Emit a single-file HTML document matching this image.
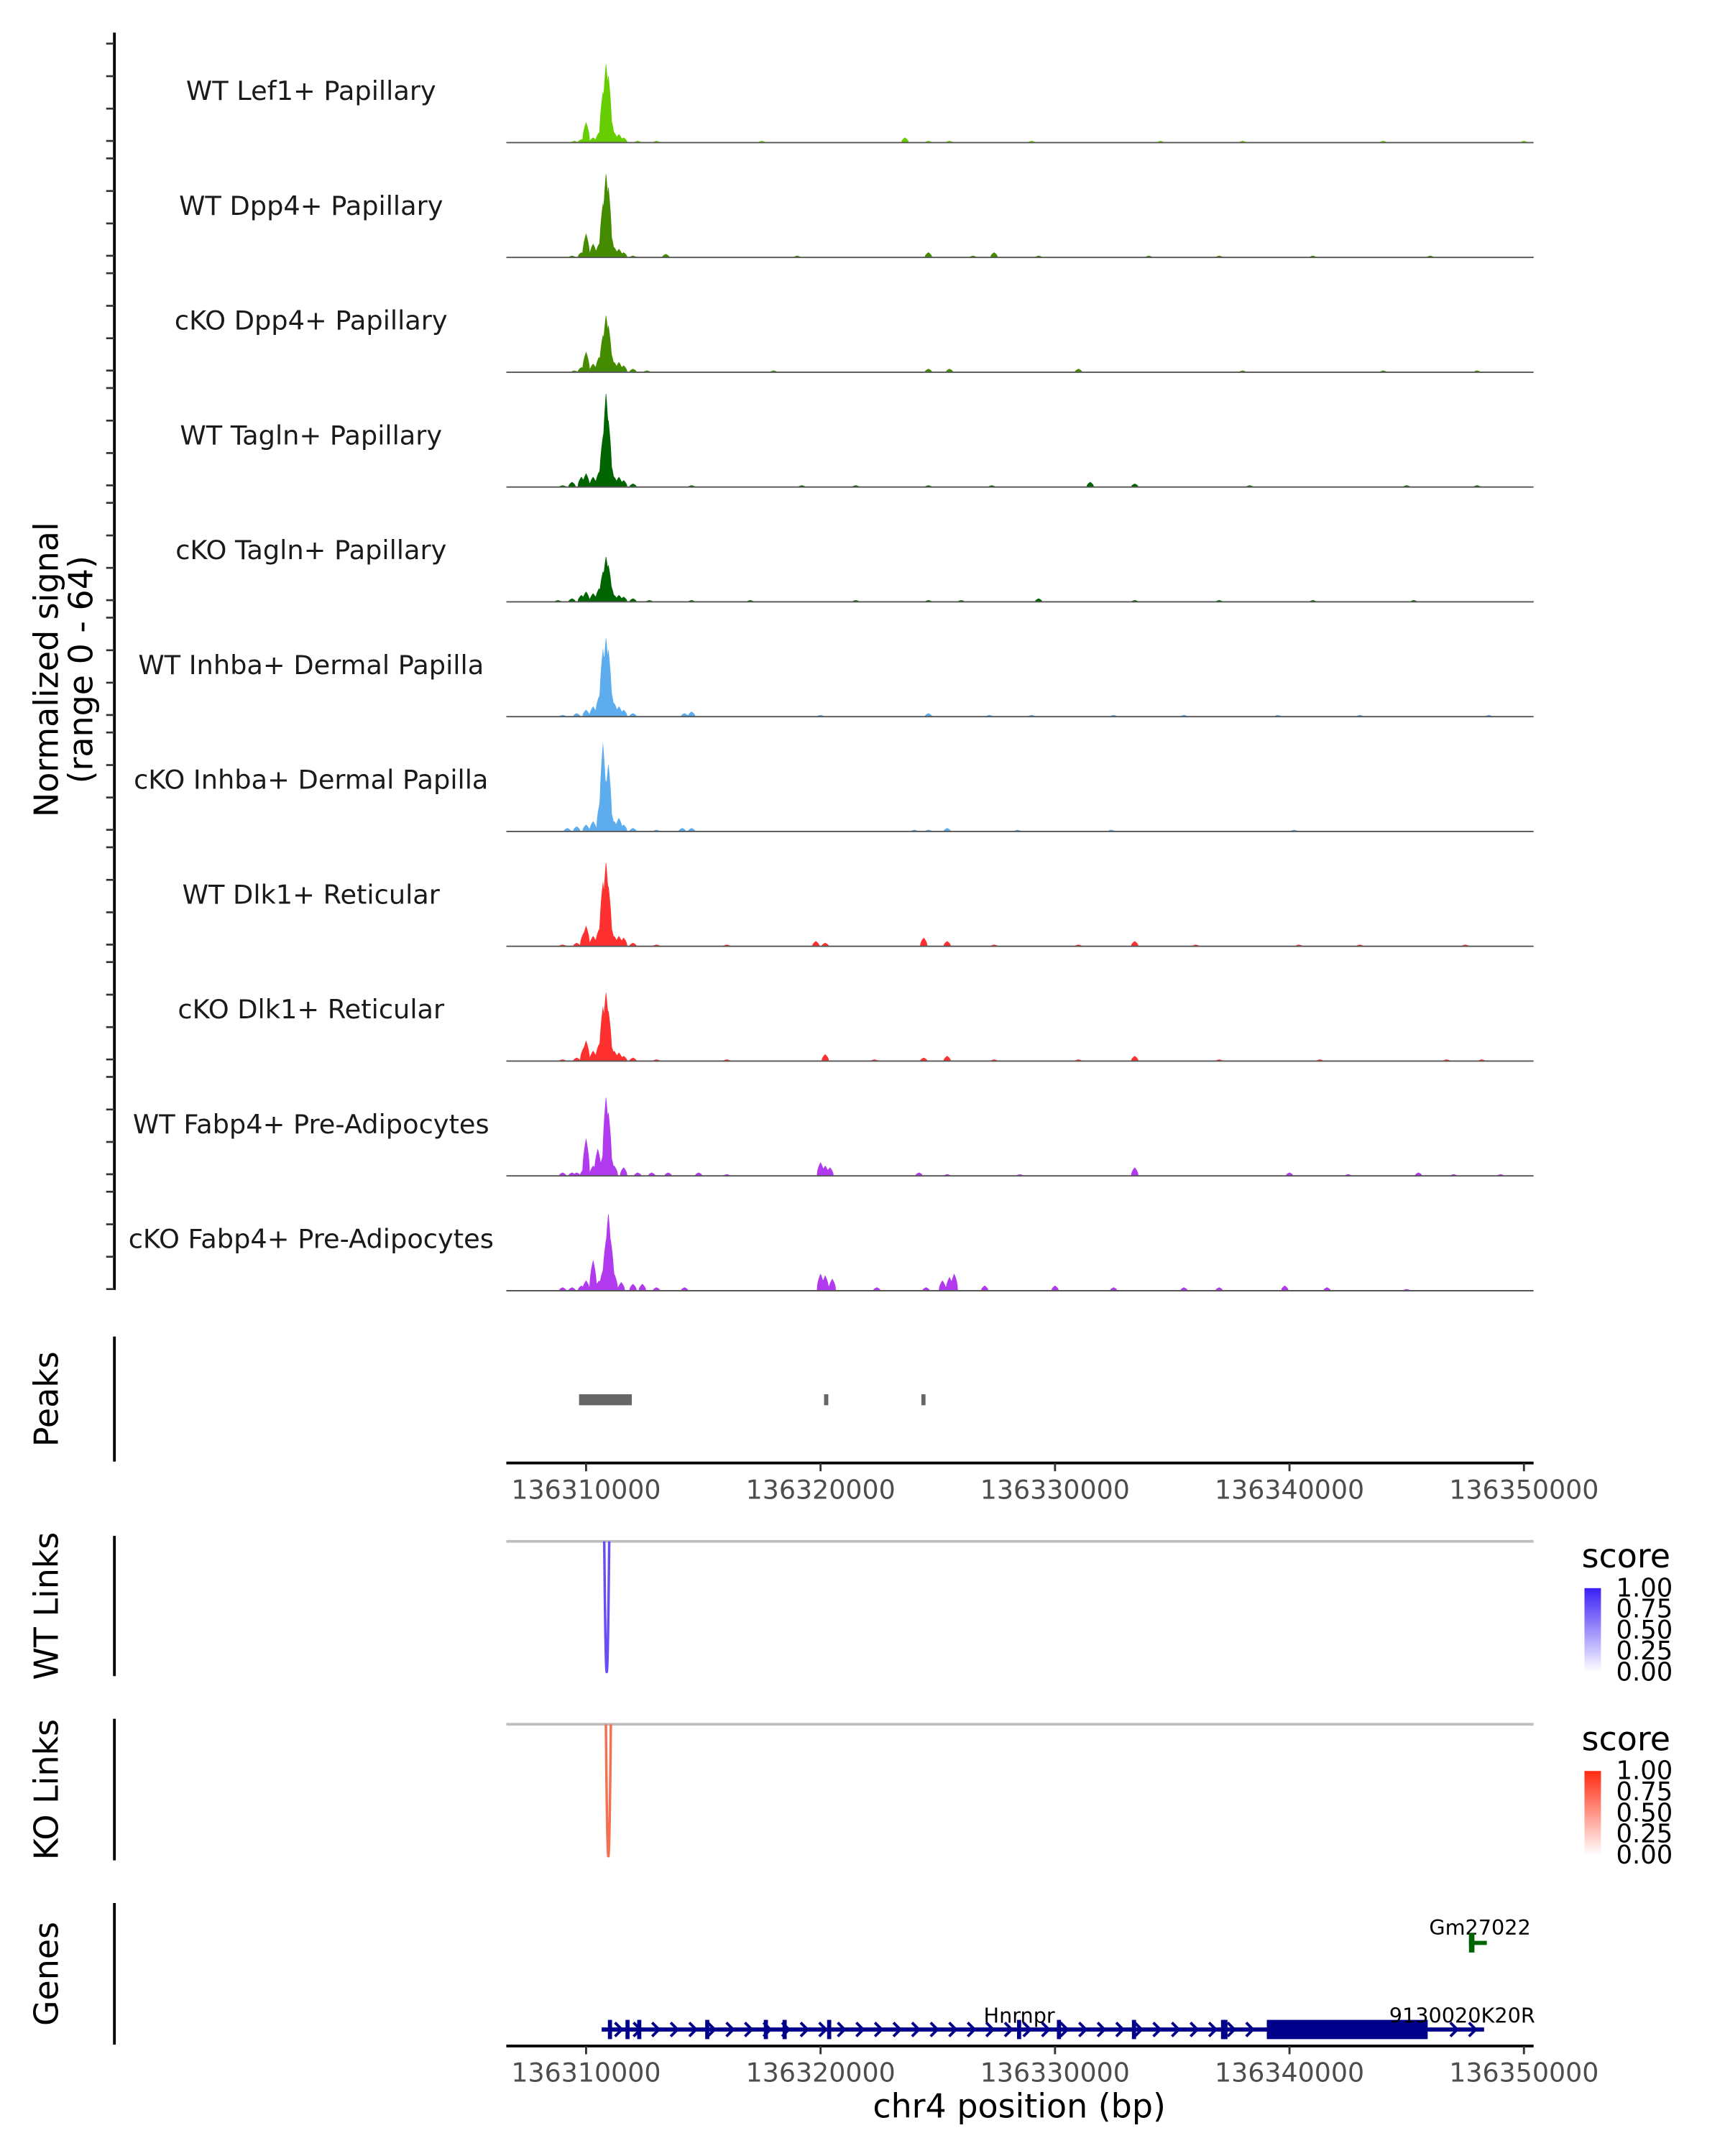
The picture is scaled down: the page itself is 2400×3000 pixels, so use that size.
<!DOCTYPE html>
<html><head><meta charset="utf-8"><style>html,body{margin:0;padding:0;background:#fff}svg{display:block}text{font-family:"DejaVu Sans","Liberation Sans",sans-serif}</style></head>
<body>
<svg id="chart" xmlns="http://www.w3.org/2000/svg" width="2400" height="3000" viewBox="0 0 1254 1568">
<g id="tracks"></g>
<g id="rest"></g>
</svg>
<script>
const trackNames = ["WT Lef1+ Papillary","WT Dpp4+ Papillary","cKO Dpp4+ Papillary","WT Tagln+ Papillary","cKO Tagln+ Papillary","WT Inhba+ Dermal Papilla","cKO Inhba+ Dermal Papilla","WT Dlk1+ Reticular","cKO Dlk1+ Reticular","WT Fabp4+ Pre-Adipocytes","cKO Fabp4+ Pre-Adipocytes"];
const trackColors = ["#66CD00","#458B00","#458B00","#006400","#006400","#5CACEE","#5CACEE","#FF3030","#FF3030","#B23AEE","#B23AEE"];
// peak positions in kb relative to 136310000, values in normalized signal (0-64)
const pos1 = [-0.5,-0.2,0.0,0.3,0.55,0.72,0.85,0.95,1.05,1.2,1.4,1.6,2.2,3.0,7.5,13.6,14.6,15.5,19,24.5,28,34,40];
const val1 = [1,2,12,3,6,30,47,40,15,6,5,3,1,1,1,3,1,1,1,1,1,1,1];
const pos2 = [-0.6,-0.2,0.0,0.3,0.55,0.72,0.85,0.95,1.05,1.2,1.4,1.6,2.0,3.4,9,14.6,16.5,17.4,19.3,24,27,31,36,40.5];
const val2 = [1,3,14,8,8,32,50,42,14,6,5,3,1,2,1,3,1,3,1,1,1,1,1,1];
const pos3 = [-0.5,-0.2,0.0,0.3,0.55,0.72,0.85,0.95,1.05,1.2,1.4,1.6,2.0,2.6,8,14.6,15.5,21,28,34,38,42];
const val3 = [1,3,12,5,9,22,34,28,12,6,6,4,2,1,1,2,2,2,1,1,1,1];
const pos4 = [-1.0,-0.6,-0.2,0.0,0.3,0.55,0.72,0.85,0.95,1.05,1.2,1.4,1.6,2.0,4.5,9.2,11.5,14.6,17.3,21.5,23.4,28.3,35,38,42.8];
const val4 = [1,3,6,8,6,9,30,56,40,14,6,6,4,2,1,1,1,1,1,3,2,1,1,1,2];
const pos5 = [-1.2,-0.6,-0.2,0.0,0.3,0.55,0.72,0.85,0.95,1.05,1.2,1.4,1.6,2.0,2.7,4.5,7,11.5,14.6,16,19.3,23.4,27,31,35.3,40.5];
const val5 = [1,2,4,6,5,8,18,27,22,10,4,4,3,2,1,1,1,1,1,1,2,1,1,1,1,1];
const pos6 = [-1.0,-0.4,0.0,0.3,0.55,0.72,0.85,0.95,1.05,1.2,1.4,1.6,2.0,4.2,4.5,10,14.6,17.2,19,22.5,25.5,29.5,33,38.5];
const val6 = [1,2,4,6,12,40,47,40,16,8,6,4,2,2,3,1,2,1,1,1,1,1,1,1];
const pos7 = [-0.8,-0.4,0.0,0.3,0.6,0.72,0.85,0.95,1.05,1.2,1.4,1.6,2.0,3.0,4.1,4.5,14.0,14.6,15.4,18.4,22.4,30.2];
const val7 = [2,3,4,6,18,52,30,40,12,6,8,4,2,1,2,2,1,1,2,1,1,1];
const pos8 = [-1.0,-0.4,-0.1,0.0,0.3,0.55,0.72,0.85,0.95,1.05,1.2,1.4,1.6,2.0,3.0,6,9.8,10.2,14.4,15.4,17.4,21,23.4,26,30.4,33,37.5,41];
const val8 = [1,2,8,12,6,10,38,50,36,12,6,6,5,2,1,1,3,2,5,3,1,1,3,1,1,1,1,1];
const pos9 = [-1.0,-0.4,-0.1,0.0,0.3,0.55,0.72,0.85,0.95,1.05,1.2,1.4,1.6,2.0,3.0,6,10.2,12.3,14.4,15.4,17.4,21,23.4,27,31.3,36.7,38.2];
const val9 = [1,2,8,12,6,10,32,41,30,10,6,5,3,2,1,1,4,1,2,3,1,1,3,1,1,1,1];
const pos10 = [-1.0,-0.6,-0.4,-0.1,0.0,0.3,0.5,0.72,0.85,0.95,1.05,1.2,1.6,2.2,2.8,3.5,4.8,6,10.0,10.2,10.4,14.2,15.4,18.5,23.4,30,32.5,35.5,37,39];
const val10 = [2,2,2,4,22,6,16,12,47,38,12,6,5,2,2,2,2,1,8,6,5,2,1,1,5,2,1,2,1,1];
const pos11 = [-1.0,-0.6,-0.2,0.0,0.3,0.55,0.72,0.85,0.95,1.05,1.2,1.5,2.0,2.4,3.0,4.2,10.0,10.2,10.5,12.4,14.5,15.2,15.5,15.7,17,20,22.5,25.5,27,29.8,31.6,35];
const val11 = [2,2,3,6,18,6,12,30,46,30,10,5,4,4,2,2,10,9,7,2,2,6,8,10,3,3,2,2,2,3,2,1];
const allPos = [pos1,pos2,pos3,pos4,pos5,pos6,pos7,pos8,pos9,pos10,pos11];
const allVal = [val1,val2,val3,val4,val5,val6,val7,val8,val9,val10,val11];
const xTicks = [136310000,136320000,136330000,136340000,136350000];
const peaksStart = [136309700,136320150,136324300];
const peaksEnd = [136311950,136320330,136324420];
const linkWT = [136310880];
const linkKO = [136310950];
const legendTicks = ["1.00","0.75","0.50","0.25","0.00"];
const exons = [136310050,136310800,136311300,136314200,136316700,136317500,136319400,136327500,136329200,136332400,136336200,136336300];

const NS="http://www.w3.org/2000/svg";
const X0=368, X1=1115;
function xs(bp){return 426+(bp-136310000)*0.01705;}
function mk(tag,attrs,parent){const e=document.createElementNS(NS,tag);for(const k in attrs)e.setAttribute(k,attrs[k]);parent.appendChild(e);return e;}
const T=document.getElementById('tracks'), R=document.getElementById('rest');
const top0=23.7, step=83.5, panelH=80, yUnit=80/64;

let ax=mk('line',{x1:83,x2:83,y1:top0,y2:top0+step*11-4,stroke:'#000','stroke-width':2},T);


for(let i=0;i<11;i++){
  const top=top0+step*i, base=top+panelH;
  [8,31.7,55.3,78.8].forEach(o=>{
    const t=mk('line',{x1:77,x2:83,y1:top+o,y2:top+o,stroke:'#333','stroke-width':1.4},T);
    
    
  });
  const lab=mk('text',{x:226,y:top+49,'text-anchor':'middle','font-size':19.2,fill:'#1a1a1a'},T);
  lab.textContent=trackNames[i];
  
  
  const P=allPos[i], V=allVal[i];
  let d='M'+X0+','+base;
  for(let bp=136306600; bp<=136350400; bp+=20){
    const kb=(bp-136310000)/1000; let v=0;
    for(let j=0;j<P.length;j++){const w=0.16;const a=1-Math.abs(kb-P[j])/w; if(a>0) v=Math.max(v,V[j]*Math.sqrt(a));}
    d+=' L'+xs(bp).toFixed(2)+','+(base-v*yUnit).toFixed(2);
  }
  d+=' L'+X1+','+base+' Z';
  const p=mk('path',{d:d,fill:trackColors[i],stroke:'none'},T);
  
  
  const bl=mk('line',{x1:X0,x2:X1,y1:base,y2:base,stroke:'#555','stroke-width':1},T);
  
  
}
const yt=mk('text',{transform:'translate(42,487) rotate(-90)','text-anchor':'middle','font-size':24,fill:'#000'},T);
yt.textContent='Normalized signal';


const yt2=mk('text',{transform:'translate(67,487) rotate(-90)','text-anchor':'middle','font-size':24,fill:'#000'},T);
yt2.textContent='(range 0 - 64)';



function panelAxis(y1,y2,label,name){
  const l=mk('line',{x1:83,x2:83,y1:y1,y2:y2,stroke:'#000','stroke-width':2},R);
  
  
  const t=mk('text',{transform:'translate(42,'+((y1+y2)/2)+') rotate(-90)','text-anchor':'middle','font-size':24,fill:'#000'},R);
  t.textContent=label;
  
  
}
function xAxis(y,name){
  const l=mk('line',{x1:X0,x2:X1,y1:y,y2:y,stroke:'#000','stroke-width':2},R);
  
  
  xTicks.forEach(v=>{
    const t=mk('line',{x1:xs(v),x2:xs(v),y1:y,y2:y+6,stroke:'#333','stroke-width':1.5},R);
    
    
    const tx=mk('text',{x:xs(v),y:y+26,'text-anchor':'middle','font-size':19,fill:'#4d4d4d'},R);
    tx.textContent=String(v);
    
    
  });
}
panelAxis(972,1063,'Peaks','peaks');
peaksStart.forEach((s,i)=>{
  const w=Math.max(3,xs(peaksEnd[i])-xs(s));
  const r=mk('rect',{x:xs(s),y:1014,width:w,height:8,fill:'#666'},R);
  
  
});
xAxis(1064,'peaks-x-axis');

function links(y1,y2,bpArr,color,name,gradId,c1){
  panelAxis(y1,y2,name==='wt'?'WT Links':'KO Links',name+'-links');
  const g=mk('line',{x1:X0,x2:X1,y1:y1+4,y2:y1+4,stroke:'#bebebe','stroke-width':2},R);
  
  
  bpArr.forEach(b=>{
    const x=xs(b);
    const p=mk('path',{d:'M'+(x-1.8)+','+(y1+4)+' Q'+x+','+(y2+y2-y1-10)+' '+(x+1.8)+','+(y1+4),fill:'none',stroke:color,'stroke-width':1.8},R);
    
    
  });
  const defs=mk('defs',{},R);
  const lg=mk('linearGradient',{id:gradId,x1:0,y1:0,x2:0,y2:1},defs);
  mk('stop',{offset:'0','stop-color':c1},lg);mk('stop',{offset:'1','stop-color':'#ffffff'},lg);
  const lt=mk('text',{x:1150,y:y1+23,'font-size':24,fill:'#000'},R);
  lt.textContent='score';
  
  
  const by=y1+38;
  const bar=mk('rect',{x:1152,y:by,width:12,height:61,fill:'url(#'+gradId+')'},R);
  
  
  legendTicks.forEach((t,i)=>{
    const tx=mk('text',{x:1175,y:by+6+i*15.3,'font-size':18.5,fill:'#000'},R);
    tx.textContent=t;
    
    
  });
}
links(1117,1219,linkWT,'#6a4cf5','wt','gWT','#3a1ff5');
links(1250,1353,linkKO,'#f47050','ko','gKO','#ff2a10');

panelAxis(1384,1487,'Genes','genes');
let e;
e=mk('text',{x:1076,y:1407,'text-anchor':'middle','font-size':15,fill:'#000'},R);e.textContent='Gm27022';


e=mk('rect',{x:1068,y:1406,width:4,height:14,fill:'#006400'},R);


e=mk('line',{x1:1068,x2:1081,y1:1413,y2:1413,stroke:'#006400','stroke-width':3},R);


e=mk('line',{x1:xs(136310900)-4,x2:xs(136348300),y1:1476,y2:1476,stroke:'#00008b','stroke-width':3},R);


for(let x=450;x<1083;x+=13.5){
  if(x>918&&x<1045)continue;
  e=mk('path',{d:'M'+(x-3)+',1471 L'+(x+2)+',1476 L'+(x-3)+',1481',fill:'none',stroke:'#00008b','stroke-width':2},R);
  
  
}
exons.forEach(b=>{
  e=mk('rect',{x:xs(b)+15,y:1469,width:3,height:14,fill:'#00008b'},R);
  
  
});
e=mk('rect',{x:921,y:1469,width:117,height:14,fill:'#00008b'},R);


e=mk('text',{x:741,y:1471,'text-anchor':'middle','font-size':15,fill:'#000'},R);e.textContent='Hnrnpr';


e=mk('svg',{x:900,y:1450,width:216,height:30,overflow:'hidden'},R);
const tt=mk('text',{x:110,y:21,'font-size':15,fill:'#000'},e);tt.textContent='9130020K20Rik';


xAxis(1488,'genes-x-axis');
e=mk('text',{x:741,y:1540,'text-anchor':'middle','font-size':24,fill:'#000'},R);e.textContent='chr4 position (bp)';


</script>
</body></html>
